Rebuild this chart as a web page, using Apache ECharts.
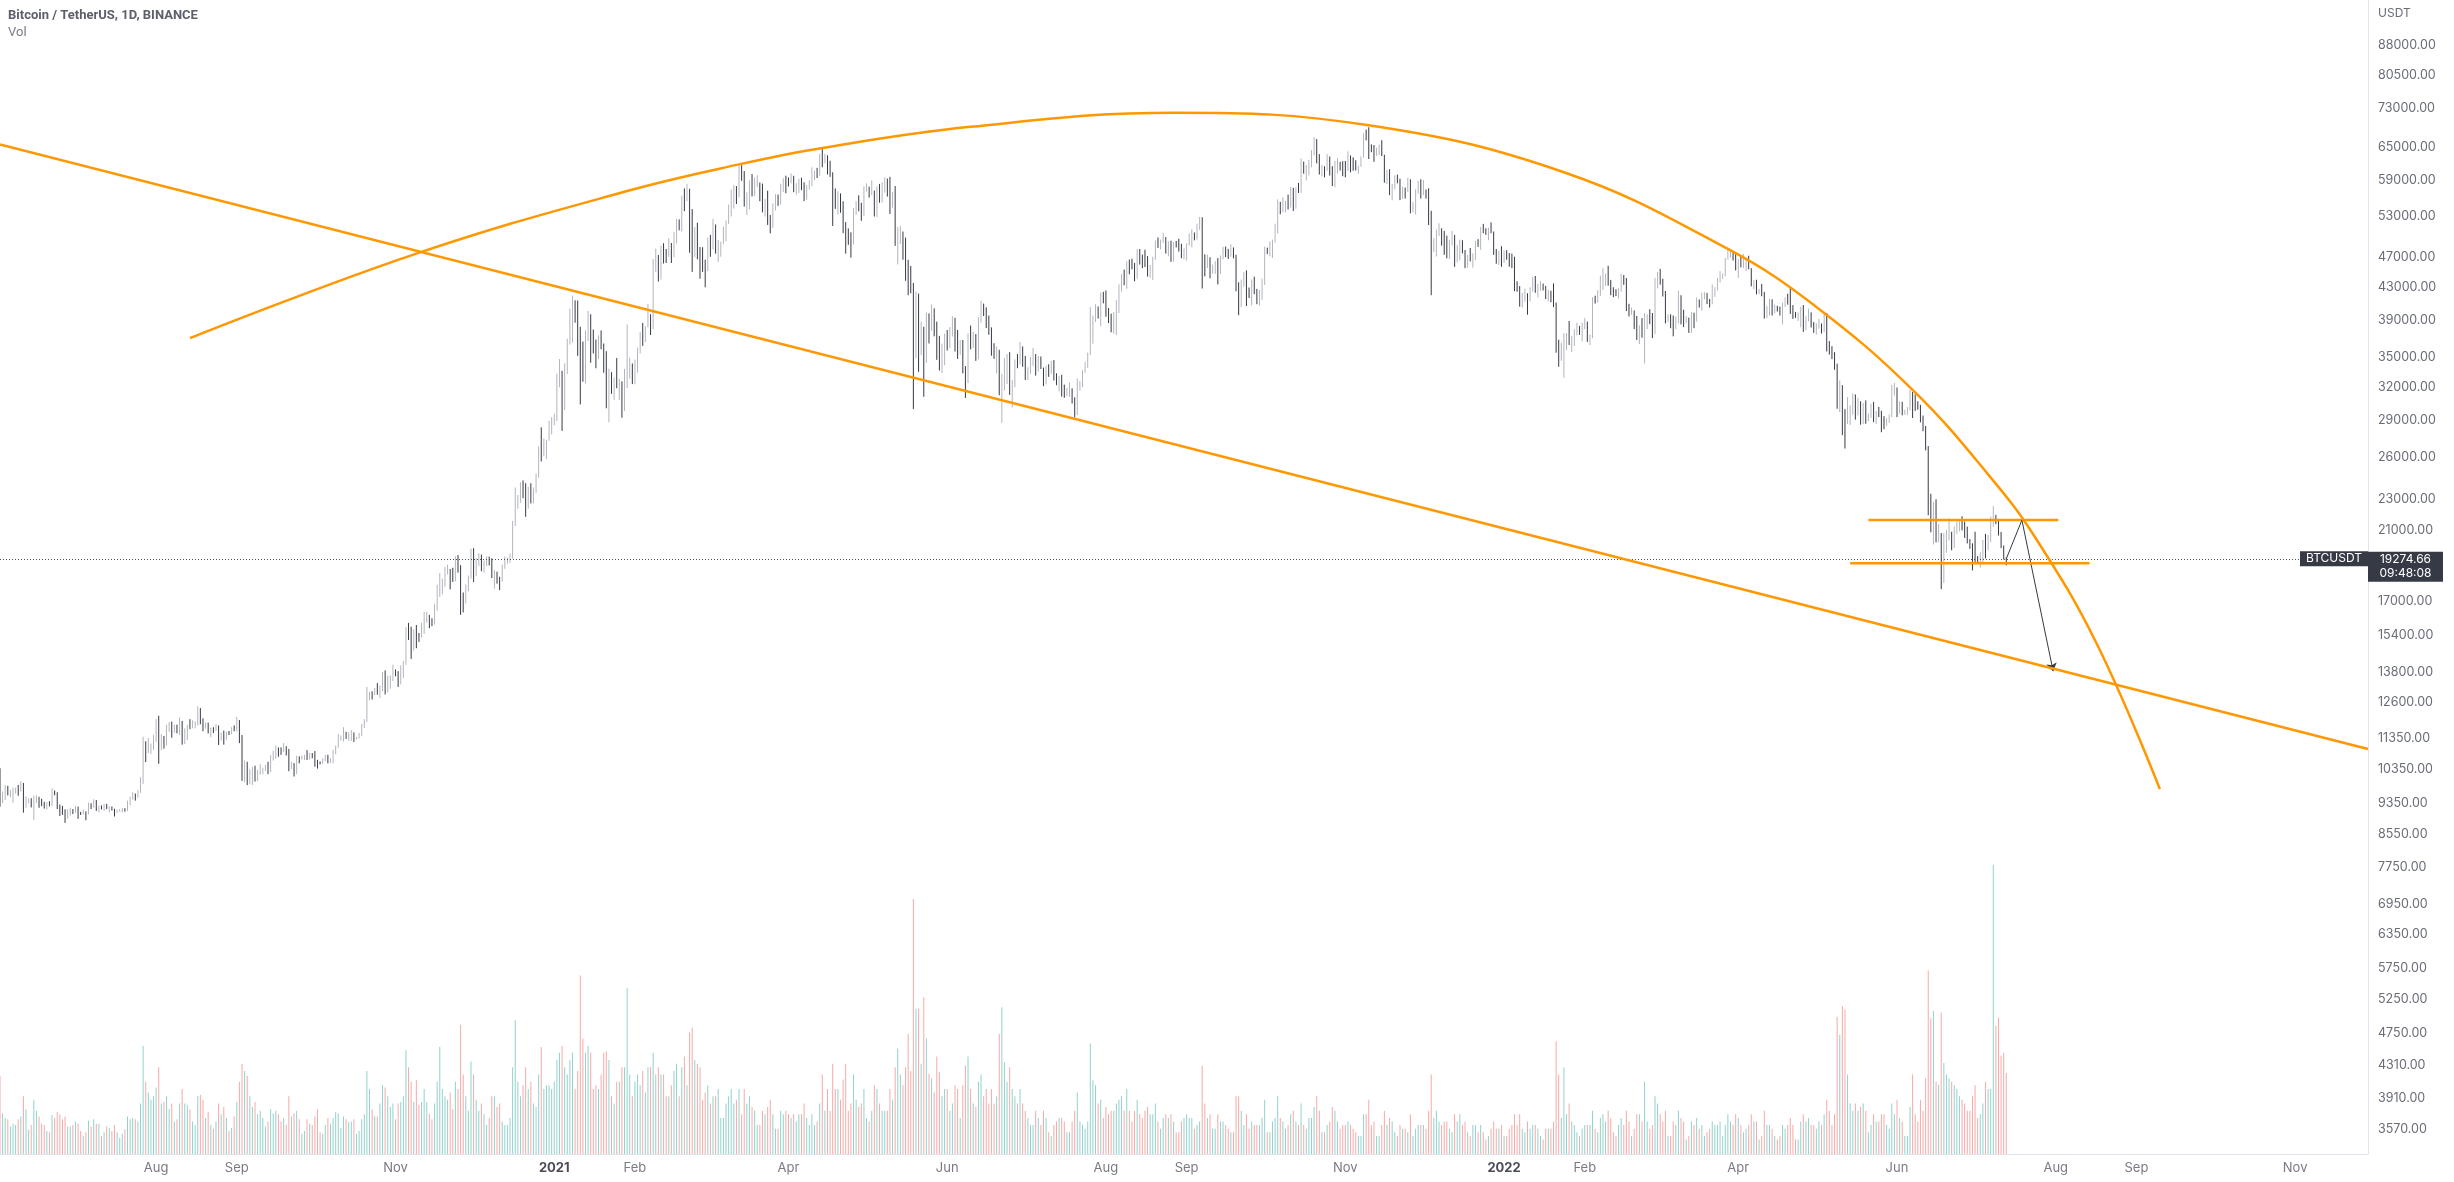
<!DOCTYPE html>
<html><head><meta charset="utf-8">
<script src="https://cdn.jsdelivr.net/npm/echarts@6/dist/echarts.min.js"></script>
<style>html,body{margin:0;padding:0;background:#fff}#c{width:2454px;height:1182px}</style>
</head><body><div id="c"></div>
<script>
// ---------------- DATA ----------------
const startDate = '2020-06-02';
const dayCount = 911;           // categories through 2022-11-29 (empty future space)
const firstOpen = 10208;        // 2020-06-01 close
const closeP = [
9520,9666,9789,9621,9666,9746,9782,9772,9885,9280,9465,9473,9342,9426,9525,9465,9386,9310,9358,9299,9680,9625,9290,9249,9162,9012,9117,9185,9138,
9232,9086,9058,9135,9069,9342,9253,9436,9232,9288,9234,9303,9242,9255,9197,9133,9154,9170,9208,9160,9390,9518,9603,9538,9700,9931,11029,10906,11100,11111,11351,
11802,11071,11220,11191,11744,11769,11602,11754,11675,11878,11410,11585,11780,11768,11865,11911,12300,11973,11730,11850,11534,11681,11664,11774,11366,11488,11325,11542,11508,11712,11680,
11971,11414,10245,10511,10169,10280,10373,10127,10230,10345,10392,10442,10324,10680,10786,10954,10939,10933,11080,10920,10417,10529,10241,10736,10686,10728,10775,10709,10845,10777,
10619,10570,10550,10670,10788,10600,10668,10925,11050,11296,11384,11555,11425,11430,11505,11320,11360,11503,11750,11916,12823,12965,12931,13108,13031,13068,13654,13271,13456,13560,13791,
13761,13550,14025,14146,15590,15580,14818,15475,15328,15297,15684,16291,16320,16070,15958,16713,17659,17776,17802,18655,18704,18415,18370,19160,18720,17150,17139,17720,18178,19625,
18802,19202,19446,18699,19155,19375,19175,18324,18541,18254,18036,18808,19175,19273,19426,21335,22797,23107,23822,23455,22719,23810,23232,23729,24712,26493,26281,27079,27385,28876,28923,
29331,32178,33000,31988,33949,36769,39432,40582,40088,38150,35404,34051,37371,39144,36742,35994,35828,36631,35891,35468,30850,32945,32078,32259,32254,32467,30366,33364,34252,34262,33092,
33526,35466,37618,36936,38290,39186,38795,46374,46420,44807,47969,47287,47153,48577,47911,49133,52119,51552,55906,55841,57408,54087,48891,49676,47073,46276,46106,45135,
49587,48440,50350,48374,48751,48882,50971,52375,54885,55851,57773,57221,61188,58968,55605,56900,58912,57648,58030,58102,57351,54083,54340,52303,51293,55025,55817,55777,57635,58746,58740,
58720,58950,57059,58202,59129,57991,55953,58077,58142,59770,60007,59860,63577,62959,63159,61334,60006,56150,55633,56425,53787,51690,51125,50047,49004,54022,55033,54824,53555,57750,
57828,56610,57213,53241,57473,56428,57380,58928,58280,55859,56704,49150,49716,49880,46760,46456,43538,42849,36690,40526,37253,37449,34655,38796,38324,39241,38529,35663,34605,35641,37254,
36693,37568,39246,36829,35513,35796,33552,33380,37388,36675,37331,35546,39020,40516,40144,38349,38092,35819,35483,35600,31608,32509,33678,34663,31584,32283,34700,34494,35911,35045,
33504,33786,34669,35287,33690,34220,33863,32877,33798,33502,34259,33087,32730,32820,31880,31383,31520,31778,30839,29790,32144,32287,33634,34258,35425,37269,39456,40019,40016,42206,41461,
39845,39147,38207,39723,40862,42836,44614,43792,46285,45580,45511,44400,47800,47068,46973,45901,44695,44705,46760,49322,48821,49239,49503,47672,48974,46843,49069,48896,48767,46970,47100,
48810,49246,49999,49915,51756,52664,46863,46048,46395,44850,45173,46026,44940,47111,48121,47737,47300,48293,47242,42968,40614,43577,44896,42840,42716,43208,42236,41035,41564,43790,
48165,47657,48233,49245,51493,55340,53797,53963,54963,54691,57487,56006,57372,57347,61672,60875,61528,62009,64280,66001,62193,60688,61286,60852,63078,60328,58413,60575,62253,61859,61300,
60911,63219,62896,61395,60937,61470,63273,67525,66947,64882,64774,64122,64380,65519,63606,60058,60344,56891,58052,59707,58622,56247,57541,57138,58960,53727,54721,57274,57776,56950,
57184,56480,53602,49152,49397,50441,50589,50471,47546,47140,49390,50053,46702,48343,48865,47632,46131,46834,46681,46914,48890,48588,50838,50820,50400,50775,50701,47543,46464,47120,46216,
47722,47286,46446,45832,43451,43082,41566,41679,41864,41822,42729,43902,42560,43059,43084,43071,42201,42353,41660,40680,36445,35071,36244,36660,36958,36810,37160,37716,38166,37881,38466,
38690,36896,37311,41574,41382,42380,43840,44118,44339,43565,42407,42244,42197,42586,44575,43961,40538,40030,40123,38431,37075,38286,37296,38333,39214,39105,37710,43193,
44354,43925,42452,39148,39398,38420,37988,38730,41941,39422,38730,38814,37792,39672,39285,41118,40917,41757,42201,41262,41002,42364,42882,43991,44313,44511,46827,47122,47434,47067,45510,
46283,45811,46407,46580,45497,43170,43444,42252,42753,42158,39530,40074,41147,39942,40551,40378,39678,40801,41493,41358,40480,39709,39441,39450,40426,38112,39235,39742,38596,37630,
38468,38525,37728,39690,36552,36013,35472,34039,30076,31017,29104,29047,29283,30101,31305,29863,30425,28716,30296,29199,29433,30309,29101,29655,29543,29202,28628,29031,29468,31735,31801,
29806,30452,29700,29865,29920,31373,31125,30204,30109,29091,28425,26575,22487,22136,22584,20401,20469,19017,20554,20711,20723,19987,21111,21227,21491,21038,20742,20281,20124,19943,
19298,19249,19298,20231,20191,20549,21638,21732,21593,20861,19970,19324,19275
];
const highP = [
10380,9690,9881,9854,9735,9802,9800,9881,9990,9938,9557,9493,9500,9570,9580,9540,9486,9400,9395,9417,9782,9724,9670,9326,9287,9194,9191,9237,9200,
9290,9270,9125,9190,9140,9375,9360,9473,9450,9300,9300,9340,9345,9280,9272,9210,9185,9200,9230,9225,9430,9545,9670,9635,9730,10111,11394,11242,11350,11168,11450,
12000,12123,11480,11420,11800,11900,11915,11800,11810,12065,11940,11680,11800,12000,11960,11930,12470,12400,12030,11880,11880,11700,11720,11820,11780,11540,11600,11570,11590,11720,11780,
12080,11960,11450,10620,10580,10350,10420,10460,10330,10500,10400,10480,10580,10790,10930,11100,11040,11040,11180,11055,10990,10580,10540,10770,10750,10770,10800,10950,10860,10860,
10920,10640,10590,10690,10800,10800,10690,10960,11100,11490,11440,11720,11560,11550,11620,11540,11390,11520,11830,12000,13200,13000,13030,13160,13350,13250,13790,13860,13640,13660,14100,
13900,13830,14070,14250,15750,15950,15770,15650,15850,15480,15950,16480,16480,16330,16170,16880,17860,18480,18180,18820,18950,18700,18770,19420,19490,18920,17450,17880,18350,19860,
19888,19310,19600,19520,19180,19420,19400,19300,18640,18560,18280,18950,19410,19350,19570,21560,23800,23280,24170,24300,24100,23840,24100,23800,24790,26870,28420,27500,27400,28990,29300,
29600,33300,34780,33600,34360,36940,40360,41950,41380,41350,38260,36630,37850,40100,39700,37950,36850,37300,37850,36420,35600,33820,33460,32940,34880,32790,32560,33780,38530,34930,34330,
34720,35980,37660,38700,38310,40950,39700,46750,48200,47310,48630,48980,48150,49700,49010,50600,52620,52550,56370,57600,58350,57530,54180,51370,52040,48430,48400,46650,
49790,50200,52640,51770,49450,49200,51450,52400,54900,57387,58150,58000,61788,61680,60630,56940,58980,60080,59450,59880,58600,58420,55840,57200,53240,55090,56640,56560,58400,59370,59800,
59500,60200,59790,58490,59250,59450,58650,58150,59000,61300,60690,61200,63770,64854,63800,63520,62500,60400,57600,57100,56750,55450,52130,51170,50580,54350,55470,56430,55200,57960,
58450,57900,58980,57200,57950,58360,58650,59500,59300,59600,57000,58000,51370,51560,50700,49800,46640,45800,43550,42450,42200,38850,38270,39900,39800,40900,40410,38850,37250,36400,37500,
37900,38230,39480,39290,37900,36800,36800,34070,37530,38400,37690,37450,39380,41330,40980,40530,39560,38200,36450,36110,35750,33300,34880,35300,35500,32700,34750,35300,36600,36100,
35100,33950,35000,35950,35300,35100,35050,33920,34100,34250,34600,34680,33350,33100,33200,32250,31950,32450,31900,31060,32850,32600,33650,34500,35450,40550,39550,40900,40630,42320,42420,
42600,40450,39780,39970,41400,43390,44700,45310,46450,46670,46780,46200,48140,48150,47370,48050,47150,45950,47050,49380,49820,49500,50500,49880,49280,49350,49150,49300,49640,48900,48250,
48950,50400,51050,50560,51900,52920,52880,47400,47350,47000,45970,46460,46880,47250,48470,48500,48170,48830,48370,47330,43640,44000,44980,45200,42970,44000,44370,42800,42650,44140,
48500,48350,49250,49500,51890,55750,55330,56100,55500,56560,57840,57680,57780,58530,62930,62350,61730,62680,64490,67000,66640,63730,61750,61500,63730,63290,61500,62500,62980,62300,62420,
62450,64270,63500,63130,62590,61600,63290,67790,68530,69000,65600,65470,64970,65540,66400,63620,60840,60950,58370,59850,60000,59260,57860,57730,59420,59170,55300,57450,58870,59170,
59040,57400,57600,53900,49700,51000,51950,51200,50800,50100,49480,50800,50200,48700,49500,49420,48000,47300,48300,47540,49330,49580,51380,51860,51200,51280,52090,50700,48150,47900,48550,
47950,47990,47570,47500,47070,43750,43150,42300,42800,42250,43000,44350,44460,43450,43800,43480,43180,42690,42560,43500,41100,36830,36500,37550,37550,38920,37230,38000,38720,38360,38740,
39270,38850,37390,41770,41950,42650,44500,45500,44800,45820,43950,43000,42750,42880,44770,44590,44200,40950,40480,40160,39500,38430,39250,39850,39700,40300,39850,44230,
45000,45400,44100,42530,39700,39700,39560,39450,42590,42000,40240,39490,39310,39940,39890,41720,41480,42330,42400,42300,41540,43360,43020,44220,45100,44820,46900,48190,48100,47700,47600,
46720,47200,47440,46890,47200,45510,43900,43970,42800,43430,42420,40700,41560,41500,40850,40710,40620,41100,41760,42200,42980,40800,39980,39940,40600,40800,39470,40370,39920,38800,
38670,39170,38650,40000,39850,36680,36130,35500,34320,32650,32200,30000,31080,30330,31420,31330,31000,30700,30550,30780,29620,30480,30650,29830,30200,29850,29380,29200,29530,32220,32400,
31980,30690,30650,29950,30180,31765,31560,31340,30710,30380,29440,28550,26900,23360,22800,22980,21365,20800,20800,21000,21720,20880,21200,21530,21600,21860,21520,21200,20430,20180,
20880,19430,19650,20380,20750,20680,21840,22527,21950,21620,20870,20050,19360
];
const lowP = [
9266,9365,9450,9581,9528,9372,9633,9570,9690,9105,9237,9361,9245,8910,9369,9236,9280,9213,9195,9277,9281,9582,9200,9015,9045,8833,8943,9025,9067,
9100,8940,9040,9050,8900,9057,9200,9240,9150,9110,9190,9150,9200,9110,9160,9000,9090,9125,9110,9130,9150,9300,9460,9433,9520,9650,9910,10570,10860,10830,10960,
11220,10518,10950,11000,11100,11560,11360,11530,11510,11450,11130,11150,11280,11650,11680,11680,11780,11820,11580,11670,11500,11380,11520,11590,11120,11260,11130,11290,11450,11470,11580,
11570,11180,10000,9960,9875,9900,9880,9980,10000,10180,10200,10300,10200,10260,10620,10680,10740,10800,10890,10780,10290,10360,10130,10200,10530,10650,10630,10640,10650,10690,
10430,10370,10500,10520,10600,10530,10540,10530,10820,11030,11260,11230,11320,11260,11250,11220,11300,11330,11410,11690,11900,12690,12720,12880,12900,12780,13040,12910,12990,13130,13430,
13620,13200,13300,13550,14090,15160,14340,14700,14800,15080,15270,15440,15960,15700,15800,15870,16530,17220,17350,17740,18400,17610,18000,18030,18500,16335,16450,16890,17520,18170,
18000,18330,18870,18580,18500,18860,18900,18210,17650,17910,17570,18020,18710,19000,19050,19290,21230,22350,22750,23060,21820,22350,22700,22700,23430,24500,25700,26100,25880,27320,27850,
28600,28950,32000,28130,29900,33290,36300,36500,38720,35110,30420,32530,32380,36700,34410,35360,33850,34800,35800,33400,30071,28850,31390,30830,31910,30830,29241,29840,31920,32830,32300,
32300,33420,35360,36160,36570,38220,37350,38020,45020,43730,43990,46130,46200,47050,46200,47010,48940,50880,50710,53860,55470,47622,45000,47010,46700,44100,45000,43000,
45115,47050,48100,47500,46300,47070,48880,49270,51850,53005,54270,55000,56080,58900,54570,53270,54120,56250,56300,57820,55450,53650,53000,51700,50427,51250,53960,54700,54900,57000,56770,
57930,58440,56950,56500,56800,57300,55470,55700,57400,57920,59000,59380,59790,61300,62020,60000,59580,51541,54220,53330,53600,50460,47500,48750,46930,48800,53250,53820,52330,53060,
57050,56040,56450,53000,52900,55200,55250,56900,56220,53400,54400,48600,46000,48850,46650,43825,42000,42250,30000,34860,33490,35200,31111,34400,36420,37800,37200,34700,33630,33380,34150,
35670,35920,37170,35570,34800,35230,33350,31000,32400,35800,35950,34600,34760,38730,39500,38120,37370,35130,34800,33330,31250,28805,31680,32300,31280,30150,32000,33850,34230,34000,
32700,32700,33300,34100,33120,33530,33780,32100,32270,33000,33300,32650,32200,31600,31130,31020,31160,31100,30500,29278,29480,31700,32000,33400,33880,35200,36400,38800,39200,38310,41000,
39420,38690,37640,37510,37330,39850,42450,43260,42800,44680,45350,43770,44120,45980,45500,45660,44380,44200,43950,46620,48300,48080,49030,47500,47130,46350,46370,48370,47780,46860,46700,
46500,48630,48380,49400,49500,50950,42843,44410,45510,44150,44770,44740,43370,44680,46690,47020,46750,47050,46850,42500,39600,40570,43080,40680,41650,40750,42130,40900,40750,41420,
43300,47430,47100,46900,49070,50400,53360,53660,53660,54100,54420,53880,54250,56820,56850,60150,58960,59850,61320,63480,62000,60000,59700,59510,60650,59820,58000,57820,60170,60720,59700,
59500,60650,60380,60680,60720,60130,61380,63080,66380,62820,64100,62300,63400,63560,63360,58570,58370,56460,55600,57420,58460,55630,55830,55900,57000,53500,53630,53330,56700,55880,
56460,55870,51680,42000,47730,47100,50040,48630,47320,46850,46750,48650,45670,46300,46550,47530,45500,45580,46410,45560,46620,48450,48050,50450,50200,49410,50450,47320,46100,45900,45680,
46200,46650,45700,45500,42500,42430,40610,40500,41200,39650,41270,42450,42300,41720,42580,42600,41540,41250,41140,40550,35440,34008,34600,32917,35700,36250,35510,36160,37300,37350,36630,
38000,36590,36250,36980,40980,41100,41900,42670,43150,43200,42000,41760,41890,41570,42430,43320,40080,39450,39640,38000,36800,36350,37040,34322,38010,38560,37000,37450,
42850,43330,41840,38650,38800,38100,37200,38000,38650,38530,38230,38660,37580,37570,38110,38850,40500,40140,41500,40920,40500,40890,41800,42560,43600,44070,44420,46660,46950,46550,45200,
44200,45620,45520,45120,45350,43120,42730,42110,42130,41870,39200,39250,39550,39550,39770,40020,39550,38540,40570,40850,39750,39170,39290,38930,38200,37700,37870,38880,38180,37580,
37390,38050,37500,37670,35570,35250,34780,33700,30030,29730,27780,26700,28700,28630,29500,29080,29440,28650,28700,28730,28960,29240,28860,28700,29300,28020,28270,28550,28800,29300,31220,
29300,29590,29450,29500,29500,29880,29220,29840,29950,28850,28100,26560,21925,20846,20111,20233,20250,17622,17950,19630,20350,19770,19900,20750,20900,20960,20500,20170,19850,18626,
18980,18980,18780,19050,19300,19760,20240,21190,21350,20650,19890,19240,18910
];
const volK = [ // daily volume, thousand BTC
108,56,50,48,38,42,40,48,52,80,62,34,40,75,60,52,42,40,32,30,54,50,58,55,48,52,38,38,40,
45,42,32,25,30,46,38,48,42,42,25,30,38,36,32,40,30,22,28,34,52,48,50,48,45,70,150,100,85,75,80,
92,120,70,72,80,62,70,45,48,70,90,70,68,62,45,40,80,82,75,50,58,40,35,45,70,55,65,50,32,36,52,
72,100,125,115,108,80,65,72,55,60,50,38,45,62,56,60,55,45,50,40,80,52,56,60,48,28,32,48,42,40,
52,62,30,28,40,50,42,50,58,56,36,52,48,44,45,48,28,32,48,55,115,90,62,52,52,70,95,92,80,65,70,
48,70,72,80,144,120,100,72,102,68,72,90,72,56,48,70,100,148,90,80,75,85,62,100,90,179,110,80,60,128,
110,75,60,70,55,40,50,80,80,65,70,45,40,40,50,120,185,100,80,95,120,90,100,70,65,110,148,90,95,95,90,
100,130,140,150,120,110,130,140,90,115,247,160,140,150,140,90,95,90,110,140,142,130,80,70,100,100,120,120,230,110,80,
100,110,95,115,85,120,120,140,110,120,110,110,80,80,95,115,125,80,120,135,95,168,175,130,125,120,75,85,
95,70,80,80,90,50,50,70,80,90,70,75,90,55,90,70,80,65,60,40,40,60,55,65,75,55,35,35,60,55,60,
55,50,55,45,55,55,70,50,40,55,40,45,70,110,60,90,60,125,90,90,75,103,125,60,70,110,75,65,70,90,
50,45,60,95,90,70,60,60,60,90,75,120,146,110,95,120,166,115,353,201,201,125,217,160,111,105,85,135,113,80,90,
90,60,70,95,90,50,95,122,135,90,70,65,100,110,80,90,70,90,70,80,166,203,127,100,120,90,80,70,90,70,
60,50,40,40,60,50,40,60,50,30,25,40,45,50,50,45,30,30,45,60,85,45,40,35,45,153,102,95,70,75,50,
65,55,60,60,70,75,80,60,90,60,45,60,75,55,50,60,65,55,55,70,45,35,50,55,50,55,45,30,30,45,50,
55,50,50,35,40,45,122,70,50,55,35,35,55,45,45,40,35,30,30,80,80,60,40,55,35,45,40,40,40,50,
75,30,30,45,50,80,50,45,35,40,55,60,45,40,70,40,35,50,50,65,80,60,30,30,40,45,65,60,45,35,40,
40,45,40,35,30,25,25,55,55,75,40,45,25,25,40,60,40,50,45,30,25,40,35,35,30,55,25,35,40,40,
40,35,60,110,50,60,45,40,45,45,35,30,55,45,55,40,45,30,25,40,40,30,40,30,20,25,35,45,35,35,40,
25,25,35,40,55,40,55,35,30,45,35,40,40,35,25,20,35,35,35,45,156,110,50,120,55,70,45,40,30,25,35,
40,40,40,60,35,30,50,55,45,60,50,30,25,40,50,40,60,45,25,35,55,55,45,100,45,35,40,80,
70,55,45,60,25,25,45,40,60,50,45,20,25,45,40,50,35,40,25,30,35,45,40,40,45,25,40,55,45,40,55,
50,40,30,35,40,55,45,45,20,25,60,40,40,35,25,20,25,40,35,40,50,40,20,20,45,55,45,50,40,40,
35,45,40,55,75,60,40,55,190,165,205,200,110,70,60,70,60,65,70,60,30,40,55,45,45,55,55,40,35,70,55,
75,50,45,25,25,65,110,55,45,75,60,105,254,188,198,100,96,196,126,110,105,100,95,90,80,75,70,60,60,80,
95,50,55,70,100,90,90,400,178,189,136,140,112
];
const volMax = 400;
const yTicks = [88000,80500,73000,65000,59000,53000,47000,43000,39000,35000,32000,29000,26000,23000,21000,
  17000,15400,13800,12600,11350,10350,9350,8550,7750,6950,6350,5750,5250,4750,4310,3910,3570];
const xTickDates = ['2020-08-01','2020-09-01','2020-11-01','2021-01-01','2021-02-01','2021-04-01','2021-06-01',
  '2021-08-01','2021-09-01','2021-11-01','2022-01-01','2022-02-01','2022-04-01','2022-06-01','2022-08-01','2022-09-01','2022-11-01'];
const xTickLabels = ['Aug','Sep','Nov','2021','Feb','Apr','Jun','Aug','Sep','Nov','2022','Feb','Apr','Jun','Aug','Sep','Nov'];
// drawings (date, price)
const trendLine = [['2020-06-02',65570],['2022-11-29',10990]];
const arcPts = [['2020-08-14',37000],['2020-11-09',47500],['2021-01-29',57150],['2021-03-13',61830],['2021-04-14',64900],
  ['2021-06-10',69080],['2021-08-27',72020],['2021-11-10',69400],['2022-01-24',60410],['2022-03-28',48160],
  ['2022-05-01',40580],['2022-06-07',31760],['2022-07-06',24740],['2022-07-24',20560],['2022-08-17',14940],['2022-09-10',9760]];
const rangeTop = [['2022-05-21',21610],['2022-08-02',21610]];
const rangeBottom = [['2022-05-14',19030],['2022-08-14',19030]];
const arrowPath = [['2022-07-13',19275],['2022-07-19',21610],['2022-07-31',13830]];
const lastPrice = 19274.66;
const countdown = '09:48:08';
const symbolName = 'BTCUSDT';

// ---------------- BUILD ----------------
const FONT = 'Inter, Roboto, sans-serif';
const UP = '#b2b5be', DOWN = '#363a45';
const VUP = 'rgba(38,166,154,0.5)', VDOWN = 'rgba(239,83,80,0.5)';
const ORANGE = '#ff9800';
const cats = [];
const t0 = Date.parse(startDate + 'T00:00:00Z');
for (let i = 0; i < dayCount; i++) cats.push(new Date(t0 + i * 864e5).toISOString().slice(0, 10));
const candles = [], vols = [];
for (let i = 0; i < closeP.length; i++) {
  const o = i === 0 ? firstOpen : closeP[i - 1];
  const c = closeP[i];
  const h = Math.max(highP[i], o, c), l = Math.min(lowP[i], o, c);
  candles.push([o, c, l, h]);
  vols.push({ value: volK[i], itemStyle: { color: c >= o ? VUP : VDOWN } });
}
let titleText = 'Bitcoin / TetherUS, 1D, BINANCE';
if (closeP.length !== highP.length || closeP.length !== lowP.length || closeP.length !== volK.length) {
  titleText += '  [len ' + closeP.length + '/' + highP.length + '/' + lowP.length + '/' + volK.length + ']';
}
const lastCat = cats[cats.length - 1];

const chart = echarts.init(document.getElementById('c'), null, { renderer: 'canvas' });
chart.setOption({
  animation: false,
  backgroundColor: '#ffffff',
  textStyle: { fontFamily: FONT },
  title: [
    { text: titleText, subtext: 'Vol', left: 8, top: 9, padding: 0, itemGap: 4,
      textStyle: { fontSize: 13, fontWeight: 'bold', color: '#5d606b', fontFamily: 'Roboto, sans-serif' },
      subtextStyle: { fontSize: 13, color: '#787b86', fontFamily: 'Roboto, sans-serif' } },
    { text: 'USDT', left: 2378, top: 7, padding: 0,
      textStyle: { fontSize: 12, fontWeight: 'normal', color: '#6a6d78', fontFamily: FONT } }
  ],
  grid: [
    { left: -1, right: 86, top: 0, bottom: 28 },
    { left: -1, right: 86, top: 865, bottom: 28 }
  ],
  xAxis: [
    { type: 'category', gridIndex: 0, data: cats, boundaryGap: false,
      axisLine: { lineStyle: { color: '#e0e3eb' } }, axisTick: { show: false }, splitLine: { show: false },
      axisLabel: {
        interval: (i, v) => xTickDates.indexOf(v) >= 0,
        formatter: (v) => { const t = xTickLabels[xTickDates.indexOf(v)]; return /^\d{4}$/.test(t) ? '{y|' + t + '}' : t; },
        color: '#787b86', fontSize: 13, margin: 8, fontFamily: FONT,
        rich: { y: { fontWeight: 'bold', color: '#4a4d57', fontSize: 13, fontFamily: FONT } }
      } },
    { type: 'category', gridIndex: 1, data: cats, boundaryGap: false, show: false }
  ],
  yAxis: [
    { type: 'log', gridIndex: 0, position: 'right', logBase: 10, min: 3320, max: 100500,
      axisLine: { show: true, lineStyle: { color: '#e0e3eb' } }, axisTick: { show: false }, splitLine: { show: false },
      axisLabel: { customValues: yTicks, formatter: (v) => Number(v).toFixed(2), color: '#6a6d78', fontSize: 12.5, margin: 10, fontFamily: FONT } },
    { type: 'value', gridIndex: 1, min: 0, max: volMax, show: false, splitLine: { show: false } }
  ],
  series: [
    { name: 'Vol', type: 'bar', xAxisIndex: 1, yAxisIndex: 1, data: vols, barWidth: 1, silent: true, z: 1 },
    { name: 'BTCUSDT', type: 'candlestick', xAxisIndex: 0, yAxisIndex: 0, data: candles, barWidth: 1.8, z: 2, silent: true,
      itemStyle: { color: UP, color0: DOWN, borderColor: UP, borderColor0: DOWN, borderWidth: 1 },
      markLine: { silent: true, symbol: 'none', animation: false,
        data: [{ yAxis: lastPrice, lineStyle: { type: [1, 2], color: '#4a4d57', width: 1 }, label: { show: false } }] },
      markPoint: { silent: true, animation: false,
        data: [
          { coord: [lastCat, lastPrice], symbol: 'rect', symbolSize: [75, 30], symbolOffset: [37.5, 8],
            itemStyle: { color: '#363a45' },
            label: { show: true, position: 'inside', formatter: lastPrice.toFixed(2) + '\n' + countdown,
              color: '#ffffff', fontSize: 12, lineHeight: 14, fontFamily: FONT } },
          { coord: [lastCat, lastPrice], symbol: 'rect', symbolSize: [68, 15], symbolOffset: [-34, 0],
            itemStyle: { color: '#363a45' },
            label: { show: true, position: 'inside', formatter: symbolName, color: '#ffffff', fontSize: 12, fontFamily: FONT } }
        ] } },
    { type: 'line', data: trendLine, symbol: 'none', silent: true, z: 5, lineStyle: { color: ORANGE, width: 2.5 } },
    { type: 'line', data: arcPts, symbol: 'none', smooth: 0.4, silent: true, z: 5, lineStyle: { color: ORANGE, width: 2.5 } },
    { type: 'line', data: rangeTop, symbol: 'none', silent: true, z: 5, lineStyle: { color: ORANGE, width: 2.5 } },
    { type: 'line', data: rangeBottom, symbol: 'none', silent: true, z: 5, lineStyle: { color: ORANGE, width: 2.5 } },
    { type: 'line', data: arrowPath.slice(0, 2), symbol: 'none', silent: true, z: 6, lineStyle: { color: '#363a45', width: 1 },
      markLine: { silent: true, animation: false, symbol: ['none', 'arrow'], symbolSize: 8,
        lineStyle: { color: '#363a45', width: 1, type: 'solid' }, label: { show: false },
        data: [[{ coord: arrowPath[1] }, { coord: arrowPath[2] }]] } }
  ]
});
</script>
</body></html>
